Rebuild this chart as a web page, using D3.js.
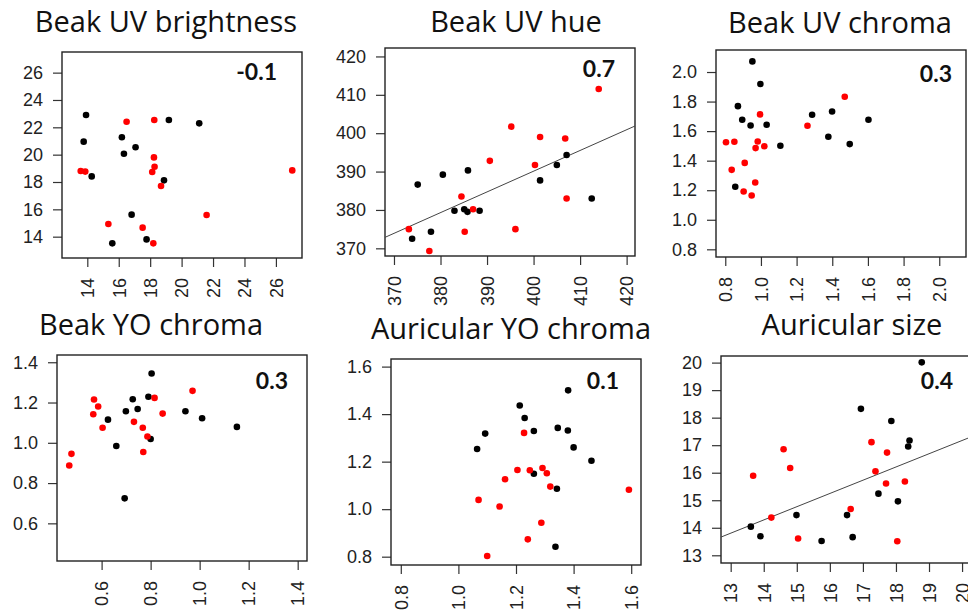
<!DOCTYPE html>
<html>
<head>
<meta charset="utf-8">
<script src="https://cdn.jsdelivr.net/npm/d3@7"></script>
<style>
body { margin: 0; background: #fff; }
svg { display: block; }
</style>
</head>
<body>
<div id="chart"></div>
<script>
// panel titles and the correlation printed in each corner
var titles = ["Beak UV brightness", "Beak UV hue", "Beak UV chroma",
	"Beak YO chroma", "Auricular YO chroma", "Auricular size"]
var corrLabels = ["-0.1", "0.7", "0.3", "0.3", "0.1", "0.4"]

// tick values (same on both axes of a panel)
var brightTicks = [14, 16, 18, 20, 22, 24, 26]
var hueTicks = [370, 380, 390, 400, 410, 420]
var uvChromaTicks = [0.8, 1.0, 1.2, 1.4, 1.6, 1.8, 2.0]
var yoChromaTicks = [0.6, 0.8, 1.0, 1.2, 1.4]
var aurChromaTicks = [0.8, 1.0, 1.2, 1.4, 1.6]
var sizeTicks = [13, 14, 15, 16, 17, 18, 19, 20]

// points [x, y], black and red groups
var brightBlack = [[13.92, 22.9], [13.77, 20.95], [14.28, 18.41], [16.2, 21.27], [16.33, 20.07],
	[17.07, 20.54], [19.19, 22.54], [21.12, 22.29], [18.88, 18.12], [16.82, 15.61], [15.59, 13.51], [17.77, 13.8]]
var brightRed = [[13.58, 18.8], [13.87, 18.76], [16.5, 22.41], [18.26, 22.54], [18.24, 19.8],
	[18.28, 19.12], [18.13, 18.73], [18.69, 17.71], [15.34, 14.93], [17.52, 14.66], [18.2, 13.51],
	[21.59, 15.59], [27.04, 18.85]]

var hueBlack = [[373.9, 372.5], [375.1, 386.6], [377.95, 374.3], [380.5, 389.2], [383.0, 379.8],
	[385.1, 380.2], [385.8, 379.5], [385.9, 390.3], [388.4, 379.8], [401.4, 387.7], [405.0, 391.7],
	[407.1, 394.3], [412.5, 383.0]]
var hueRed = [[373.2, 375.0], [377.6, 369.3], [384.5, 383.5], [385.2, 374.3], [387.0, 380.2],
	[390.6, 392.8], [395.2, 401.7], [396.1, 375.0], [400.3, 391.7], [401.4, 399.0], [406.8, 398.6],
	[407.1, 383.0], [414.0, 411.5]]

var uvChromaBlack = [[0.952, 2.072], [0.997, 1.919], [0.871, 1.769], [0.895, 1.677], [0.942, 1.638],
	[1.032, 1.643], [1.109, 1.501], [1.287, 1.711], [1.399, 1.733], [1.378, 1.562], [1.498, 1.512],
	[1.603, 1.677], [0.856, 1.223]]
var uvChromaRed = [[0.804, 1.525], [0.851, 1.528], [0.995, 1.713], [0.982, 1.53], [0.97, 1.485],
	[1.019, 1.498], [0.836, 1.338], [0.909, 1.385], [0.968, 1.252], [0.903, 1.191], [0.948, 1.164],
	[1.261, 1.636], [1.47, 1.833]]

var yoChromaBlack = [[0.804, 1.344], [0.791, 1.229], [0.727, 1.216], [0.699, 1.157], [0.747, 1.168],
	[0.626, 1.115], [0.66, 0.984], [0.8, 1.019], [0.942, 1.157], [1.01, 1.122], [1.152, 1.079], [0.694, 0.724]]
var yoChromaRed = [[0.468, 0.887], [0.477, 0.945], [0.569, 1.215], [0.586, 1.18], [0.566, 1.142],
	[0.604, 1.075], [0.732, 1.104], [0.768, 1.075], [0.787, 1.031], [0.77, 0.954], [0.816, 1.223],
	[0.849, 1.145], [0.971, 1.258]]

var aurChromaBlack = [[1.065, 1.253], [1.093, 1.318], [1.213, 1.436], [1.23, 1.384], [1.262, 1.329],
	[1.345, 1.342], [1.38, 1.331], [1.381, 1.5], [1.4, 1.26], [1.462, 1.204], [1.262, 1.149],
	[1.342, 1.086], [1.337, 0.842]]
var aurChromaRed = [[1.228, 1.321], [1.07, 1.039], [1.162, 1.126], [1.143, 1.011], [1.205, 1.165],
	[1.248, 1.164], [1.292, 1.173], [1.307, 1.151], [1.319, 1.095], [1.288, 0.943], [1.241, 0.873],
	[1.1, 0.803], [1.592, 1.082]]

var sizeBlack = [[18.78, 20.01], [16.94, 18.32], [17.86, 17.88], [18.41, 17.17], [18.37, 16.95],
	[17.47, 15.24], [18.06, 14.96], [16.52, 14.46], [16.69, 13.66], [15.75, 13.52], [14.99, 14.46],
	[13.61, 14.04], [13.9, 13.69]]
var sizeRed = [[13.68, 15.89], [14.6, 16.85], [14.8, 16.17], [14.23, 14.37], [15.04, 13.61],
	[16.63, 14.68], [17.26, 17.11], [17.38, 16.05], [17.73, 16.73], [17.7, 15.61], [18.27, 15.68],
	[18.04, 13.51]]

// fitted lines [slope, intercept]
var hueFit = [0.54, 174.1]
var sizeFit = [0.481, 7.55]

// layout of the six panels (pixel boxes, axis limits)
var panels = [
	{ black: brightBlack, red: brightRed, ticks: brightTicks, fmt: "d", fit: null,
		left: 62, top: 52, w: 240, h: 206, xDom: [12.39, 27.66], yDom: [12.44, 27.51],
		titleX: 166, titleY: 32, corrX: 277, corrY: 80 },
	{ black: hueBlack, red: hueRed, ticks: hueTicks, fmt: "d", fit: hueFit,
		left: 385, top: 48, w: 250, h: 208, xDom: [368.07, 421.8], yDom: [368.0, 422.2],
		titleX: 516, titleY: 32, corrX: 615, corrY: 77 },
	{ black: uvChromaBlack, red: uvChromaRed, ticks: uvChromaTicks, fmt: ".1f", fit: null,
		left: 716, top: 50, w: 250, h: 207, xDom: [0.748, 2.15], yDom: [0.748, 2.149],
		titleX: 840, titleY: 33, corrX: 952, corrY: 82 },
	{ black: yoChromaBlack, red: yoChromaRed, ticks: yoChromaTicks, fmt: ".1f", fit: null,
		left: 57, top: 355, w: 250, h: 206, xDom: [0.418, 1.438], yDom: [0.413, 1.436],
		titleX: 151, titleY: 335, corrX: 288, corrY: 389 },
	{ black: aurChromaBlack, red: aurChromaRed, ticks: aurChromaTicks, fmt: ".1f", fit: null,
		left: 391, top: 359, w: 250, h: 206, xDom: [0.766, 1.634], yDom: [0.765, 1.632],
		titleX: 511, titleY: 339, corrX: 619, corrY: 389 },
	{ black: sizeBlack, red: sizeRed, ticks: sizeTicks, fmt: "d", fit: sizeFit,
		left: 721, top: 356, w: 249, h: 207, xDom: [12.707, 20.24], yDom: [12.72, 20.24],
		titleX: 852, titleY: 335, corrX: 953, corrY: 389 }
]

var width = 968
var height = 612

var svg = d3.select("#chart")
	.append("svg")
	.attr("width", width)
	.attr("height", height)

panels.forEach(function (p, i) {
	var x = d3.scaleLinear().domain(p.xDom).range([p.left, p.left + p.w])
	var y = d3.scaleLinear().domain(p.yDom).range([p.top + p.h, p.top])
	var g = svg.append("g")

	// title
	g.append("text")
		.attr("x", p.titleX)
		.attr("y", p.titleY)
		.attr("text-anchor", "middle")
		.style("font-family", "'Open Sans', Lato, sans-serif")
		.style("font-size", "29px")
		.style("fill", "#111")
		.text(titles[i])

	// y axis
	var yAxis = g.append("g")
		.attr("transform", "translate(" + p.left + ",0)")
		.call(d3.axisLeft(y).tickValues(p.ticks).tickFormat(d3.format(p.fmt)).tickSize(9).tickPadding(10))
	// x axis, labels turned vertical
	var xAxis = g.append("g")
		.attr("transform", "translate(0," + (p.top + p.h) + ")")
		.call(d3.axisBottom(x).tickValues(p.ticks).tickFormat(d3.format(p.fmt)).tickSize(9))
	xAxis.selectAll("text")
		.attr("transform", "rotate(-90)")
		.attr("x", -20)
		.attr("y", 0)
		.attr("dy", "0.35em")
		.attr("text-anchor", "end")

	g.selectAll(".domain").remove()
	g.selectAll(".tick line").style("stroke", "#333").style("stroke-width", 1.2)
	g.selectAll(".tick text")
		.style("font-family", "'Liberation Sans', Arial, sans-serif")
		.style("font-size", "18px")
		.style("fill", "#222")

	// box
	g.append("rect")
		.attr("x", p.left)
		.attr("y", p.top)
		.attr("width", p.w)
		.attr("height", p.h)
		.style("fill", "none")
		.style("stroke", "#222")
		.style("stroke-width", 1.4)

	// fitted line
	if (p.fit) {
		g.append("line")
			.attr("x1", x(p.xDom[0]))
			.attr("y1", y(p.fit[0] * p.xDom[0] + p.fit[1]))
			.attr("x2", x(p.xDom[1]))
			.attr("y2", y(p.fit[0] * p.xDom[1] + p.fit[1]))
			.style("stroke", "#444")
			.style("stroke-width", 1)
	}

	// points
	g.selectAll(".blk")
		.data(p.black)
		.enter()
		.append("circle")
		.attr("cx", function (d) { return x(d[0]) })
		.attr("cy", function (d) { return y(d[1]) })
		.attr("r", 3.3)
		.style("fill", "#000")
	g.selectAll(".red")
		.data(p.red)
		.enter()
		.append("circle")
		.attr("cx", function (d) { return x(d[0]) })
		.attr("cy", function (d) { return y(d[1]) })
		.attr("r", 3.3)
		.style("fill", "#ff0000")

	// correlation label
	g.append("text")
		.attr("x", p.corrX)
		.attr("y", p.corrY)
		.attr("text-anchor", "end")
		.style("font-family", "Lato, 'Open Sans', sans-serif")
		.style("font-weight", "bold")
		.style("font-size", "23px")
		.style("fill", "#111")
		.text(corrLabels[i])
})
</script>
</body>
</html>
